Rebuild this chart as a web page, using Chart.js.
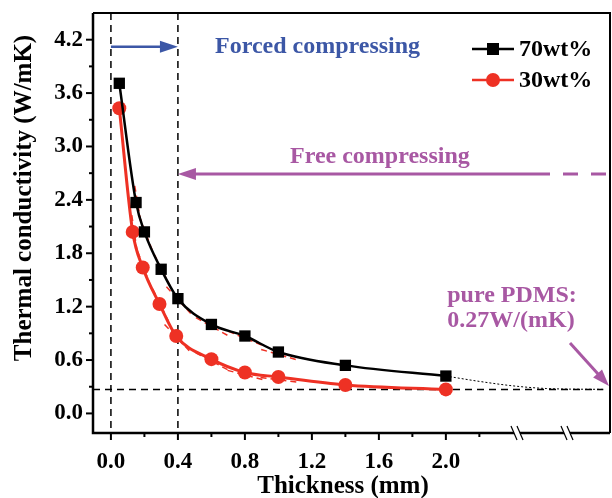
<!DOCTYPE html>
<html>
<head>
<meta charset="utf-8">
<script src="https://cdn.jsdelivr.net/npm/chart.js@4.4.0/dist/chart.umd.min.js"></script>
<style>
  html, body { margin: 0; padding: 0; background: #fff; }
</style>
</head>
<body>
<canvas id="tcChart" width="612" height="498"></canvas>
<script>
// values
const thickness70 = [0.05, 0.15, 0.2, 0.3, 0.4, 0.6, 0.8, 1.0, 1.4, 2.0];
const tc70 = [3.71, 2.37, 2.04, 1.62, 1.29, 1.00, 0.87, 0.69, 0.54, 0.42];
const thickness30 = [0.05, 0.13, 0.19, 0.29, 0.39, 0.6, 0.8, 1.0, 1.4, 2.0];
const tc30 = [3.43, 2.04, 1.64, 1.23, 0.87, 0.61, 0.46, 0.41, 0.32, 0.27];
// thin dotted trend of 70wt% towards pure PDMS
const trendX = [2.0, 2.2, 2.4, 2.6, 2.94];
const trendY = [0.42, 0.36, 0.31, 0.28, 0.27];
const pdmsValue = 0.27;
const seriesNames = ['70wt%', '30wt%'];
const xTicks = [0.0, 0.4, 0.8, 1.2, 1.6, 2.0];
const xMinor = [0.2, 0.6, 1.0, 1.4, 1.8, 2.2];
const yTicks = [0.0, 0.6, 1.2, 1.8, 2.4, 3.0, 3.6, 4.2];
const yMinor = [0.3, 0.9, 1.5, 2.1, 2.7, 3.3, 3.9];

const FONT = "'Liberation Serif', 'Times New Roman', serif";
const RED = '#ee3124';
const BLUE = '#3c57a6';
const PURPLE = '#a858a3';

const toPoints = (xs, ys) => xs.map((x, i) => ({ x: x, y: ys[i] }));

function arrow(ctx, x1, y1, x2, y2, color, lw, head, half) {
    const a = Math.atan2(y2 - y1, x2 - x1);
    ctx.save();
    ctx.strokeStyle = color;
    ctx.fillStyle = color;
    ctx.lineWidth = lw;
    ctx.beginPath();
    ctx.moveTo(x1, y1);
    ctx.lineTo(x2 - Math.cos(a) * head * 0.8, y2 - Math.sin(a) * head * 0.8);
    ctx.stroke();
    ctx.beginPath();
    ctx.moveTo(x2, y2);
    ctx.lineTo(x2 - Math.cos(a) * head - Math.sin(a) * half, y2 - Math.sin(a) * head + Math.cos(a) * half);
    ctx.lineTo(x2 - Math.cos(a) * head + Math.sin(a) * half, y2 - Math.sin(a) * head - Math.cos(a) * half);
    ctx.closePath();
    ctx.fill();
    ctx.restore();
}

const decor = {
    id: 'decor',
    beforeDatasetsDraw(chart) {
        const { ctx, chartArea: a, scales: { x, y } } = chart;
        ctx.save();
        // dashed guides
        ctx.strokeStyle = '#000';
        ctx.lineWidth = 1.5;
        ctx.setLineDash([7, 5]);
        [0, 0.4].forEach(v => {
            const px = x.getPixelForValue(v);
            ctx.beginPath();
            ctx.moveTo(px, a.top);
            ctx.lineTo(px, a.bottom);
            ctx.stroke();
        });
        const py = y.getPixelForValue(pdmsValue);
        ctx.beginPath();
        ctx.moveTo(a.left, py);
        ctx.lineTo(x.getPixelForValue(2.94), py);
        ctx.stroke();

        // red dashed tangents at the points
        ctx.strokeStyle = RED;
        ctx.lineWidth = 1.5;
        ctx.setLineDash([6, 4]);
        [0, 1].forEach(di => {
            const pts = chart.getDatasetMeta(di).data;
            for (let i = 1; i < 8; i++) {
                const p0 = pts[i - 1], p1 = pts[i], p2 = pts[i + 1];
                const ang = Math.atan2(p2.y - p0.y, p2.x - p0.x);
                const L = 20;
                ctx.beginPath();
                ctx.moveTo(p1.x - Math.cos(ang) * L + 2, p1.y - Math.sin(ang) * L + 3);
                ctx.lineTo(p1.x + Math.cos(ang) * L + 2, p1.y + Math.sin(ang) * L + 3);
                ctx.stroke();
            }
        });
        ctx.restore();
    },
    afterDraw(chart) {
        const { ctx, chartArea: a, scales: { x, y } } = chart;
        ctx.save();
        ctx.setLineDash([]);
        ctx.strokeStyle = '#000';

        // frame
        ctx.lineWidth = 2.5;
        ctx.beginPath();
        ctx.moveTo(a.left, a.top);
        ctx.lineTo(a.left, a.bottom);
        ctx.lineTo(a.right, a.bottom);
        ctx.stroke();
        ctx.lineWidth = 2;
        ctx.beginPath();
        ctx.moveTo(a.left, a.top);
        ctx.lineTo(a.right, a.top);
        ctx.lineTo(a.right, a.bottom);
        ctx.stroke();

        // ticks
        ctx.lineWidth = 2;
        xTicks.forEach(v => { const px = x.getPixelForValue(v); ctx.beginPath(); ctx.moveTo(px, a.bottom); ctx.lineTo(px, a.bottom + 7); ctx.stroke(); });
        xMinor.forEach(v => { const px = x.getPixelForValue(v); ctx.beginPath(); ctx.moveTo(px, a.bottom); ctx.lineTo(px, a.bottom + 4); ctx.stroke(); });
        yTicks.forEach(v => { const py = y.getPixelForValue(v); ctx.beginPath(); ctx.moveTo(a.left, py); ctx.lineTo(a.left - 7, py); ctx.stroke(); });
        yMinor.forEach(v => { const py = y.getPixelForValue(v); ctx.beginPath(); ctx.moveTo(a.left, py); ctx.lineTo(a.left - 4, py); ctx.stroke(); });

        // axis breaks
        [517, 567].forEach(bx => {
            ctx.fillStyle = '#fff';
            ctx.fillRect(bx - 3, a.bottom - 3, 6, 6);
            ctx.lineWidth = 1.2;
            [-3, 3].forEach(o => {
                ctx.beginPath();
                ctx.moveTo(bx + o - 3, a.bottom - 7);
                ctx.lineTo(bx + o + 3, a.bottom + 7);
                ctx.stroke();
            });
        });

        // arrows
        const x0 = x.getPixelForValue(0), x4 = x.getPixelForValue(0.4);
        const yForced = y.getPixelForValue(4.12);
        arrow(ctx, x0, yForced, x4, yForced, BLUE, 2.5, 18, 6);
        const yFree = y.getPixelForValue(2.69);
        arrow(ctx, 535, yFree, x4, yFree, PURPLE, 3, 18, 6);
        ctx.strokeStyle = PURPLE;
        ctx.lineWidth = 3;
        ctx.setLineDash([15, 13]);
        ctx.beginPath();
        ctx.moveTo(535, yFree);
        ctx.lineTo(a.right, yFree);
        ctx.stroke();
        ctx.setLineDash([]);
        arrow(ctx, 570, 343, 609, 386, PURPLE, 3, 17, 6);

        // texts
        ctx.textBaseline = 'middle';
        ctx.font = 'bold 24px ' + FONT;
        ctx.fillStyle = BLUE;
        ctx.textAlign = 'left';
        ctx.fillText('Forced compressing', 215, yForced);
        ctx.fillStyle = PURPLE;
        ctx.fillText('Free compressing', 290, 157);
        ctx.textAlign = 'center';
        ctx.fillText('pure PDMS:', 512, 296);
        ctx.fillText('0.27W/(mK)', 511, 321);

        // legend
        ctx.textAlign = 'left';
        ctx.fillStyle = '#000';
        const leg = [
            { y: 49, color: '#000', style: 'rect', r: 6, name: seriesNames[0] },
            { y: 80, color: RED, style: 'circle', r: 7, name: seriesNames[1] }
        ];
        leg.forEach(l => {
            ctx.strokeStyle = l.color;
            ctx.fillStyle = l.color;
            ctx.lineWidth = 2.5;
            ctx.beginPath();
            ctx.moveTo(472, l.y);
            ctx.lineTo(514, l.y);
            ctx.stroke();
            if (l.style === 'rect') {
                ctx.fillRect(493 - l.r, l.y - l.r, 2 * l.r, 2 * l.r);
            } else {
                ctx.beginPath();
                ctx.arc(493, l.y, l.r, 0, Math.PI * 2);
                ctx.fill();
            }
            ctx.fillStyle = '#000';
            ctx.fillText(l.name, 519, l.y + 1);
        });

        // axis titles
        ctx.font = 'bold 25px ' + FONT;
        ctx.textAlign = 'center';
        ctx.fillText('Thickness (mm)', 343, 487);
        ctx.save();
        ctx.translate(25, 198);
        ctx.rotate(-Math.PI / 2);
        ctx.fillText('Thermal conductivity (W/mK)', 0, 0);
        ctx.restore();

        ctx.restore();
    }
};

const tickFont = { family: FONT, size: 23, weight: 'bold' };

new Chart(document.getElementById('tcChart').getContext('2d'), {
    type: 'line',
    data: {
        datasets: [{
            label: seriesNames[0],
            data: toPoints(thickness70, tc70),
            borderColor: '#000',
            backgroundColor: '#000',
            borderWidth: 2.5,
            pointStyle: 'rect',
            pointRadius: 8,
            pointBorderWidth: 0,
            cubicInterpolationMode: 'monotone'
        }, {
            label: seriesNames[1],
            data: toPoints(thickness30, tc30),
            borderColor: RED,
            backgroundColor: RED,
            borderWidth: 3,
            pointStyle: 'circle',
            pointRadius: 7,
            pointBorderWidth: 0,
            cubicInterpolationMode: 'monotone'
        }, {
            label: 'trend',
            data: toPoints(trendX, trendY),
            borderColor: '#000',
            borderWidth: 1,
            borderDash: [2, 2],
            pointRadius: 0,
            cubicInterpolationMode: 'monotone'
        }]
    },
    options: {
        responsive: false,
        animation: false,
        devicePixelRatio: 1,
        layout: { autoPadding: false, padding: { top: 13, right: 2, left: 0, bottom: 0 } },
        plugins: { legend: { display: false }, tooltip: { enabled: false } },
        scales: {
            x: {
                type: 'linear',
                min: -0.107,
                max: 2.98,
                grid: { display: false, drawTicks: false },
                border: { display: false },
                afterBuildTicks: s => { s.ticks = xTicks.map(v => ({ value: v })); },
                afterFit: s => { s.height = 65; s.paddingLeft = 0; s.paddingRight = 0; },
                ticks: {
                    font: tickFont,
                    color: '#000',
                    padding: 15,
                    maxRotation: 0,
                    callback: v => v.toFixed(1)
                }
            },
            y: {
                min: -0.22,
                max: 4.5,
                grid: { display: false, drawTicks: false },
                border: { display: false },
                afterBuildTicks: s => { s.ticks = yTicks.map(v => ({ value: v })); },
                afterFit: s => { s.width = 93; s.paddingTop = 0; s.paddingBottom = 0; },
                ticks: {
                    font: tickFont,
                    color: '#000',
                    padding: 10,
                    callback: v => v.toFixed(1)
                }
            }
        }
    },
    plugins: [decor]
});
</script>
</body>
</html>
